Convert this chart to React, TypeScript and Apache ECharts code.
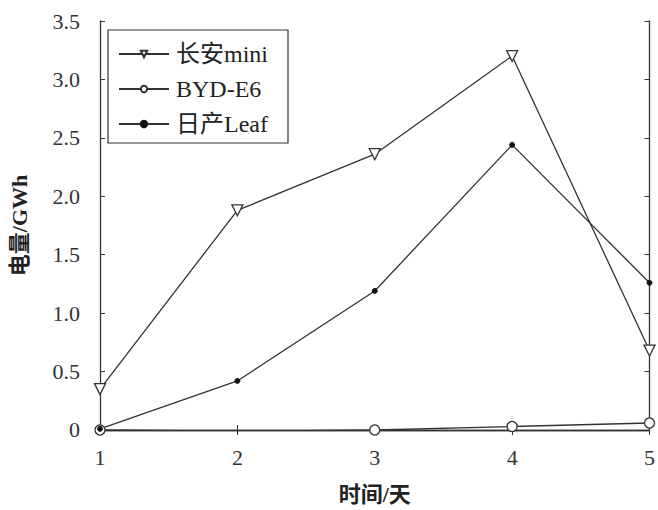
import React, { useEffect, useRef } from "react";
import * as echarts from "echarts";

const days = [1, 2, 3, 4, 5];
const changan = [0.35, 1.88, 2.36, 3.2, 0.68];
const byd = [0.0, -0.01, 0.0, 0.03, 0.06];
const leaf = [0.01, 0.42, 1.19, 2.44, 1.26];
const seriesNames = ["长安mini", "BYD-E6", "日产Leaf"];

const FONT = "'Liberation Serif', 'Noto Sans CJK SC', serif";
const C = "#333";

export default function App() {
  const ref = useRef<HTMLDivElement>(null);
  useEffect(() => {
    if (!ref.current) return;
    const chart = echarts.init(ref.current, undefined, { renderer: "svg" });
    const pair = (ys: number[]) => days.map((d, i) => [d, ys[i]]);
    const lineStyle = { color: C, width: 1.3 };
    chart.setOption({
      animation: false,
      backgroundColor: "#fff",
      grid: { left: 100, right: 6, top: 21, bottom: 78 },
      legend: {
        left: 108,
        top: 30,
        orient: "vertical",
        borderColor: C,
        borderWidth: 1.2,
        padding: [12, 20, 7, 10],
        itemGap: 11,
        itemWidth: 50,
        itemHeight: 8,
        textStyle: { fontFamily: FONT, fontSize: 24, color: "#222", padding: [0, 0, 0, 2] },
        data: seriesNames,
      },
      xAxis: [
        {
          type: "value",
          min: 1,
          max: 5,
          interval: 1,
          name: "时间/天",
          nameLocation: "middle",
          nameGap: 53,
          nameTextStyle: { fontFamily: FONT, fontSize: 22, fontWeight: "bold", color: "#222" },
          axisLine: { lineStyle: { color: C, width: 1.3 } },
          axisTick: { inside: true, length: 5, lineStyle: { color: C } },
          axisLabel: { fontFamily: FONT, fontSize: 22, color: "#333", margin: 16 },
          splitLine: { show: false },
        },
        {
          type: "value",
          position: "top",
          min: 1,
          max: 5,
          interval: 1,
          axisLine: { show: true, lineStyle: { color: C, width: 1.3 } },
          axisTick: { inside: true, length: 5, lineStyle: { color: C } },
          axisLabel: { show: false },
          splitLine: { show: false },
        },
      ],
      yAxis: [
        {
          type: "value",
          min: 0,
          max: 3.5,
          interval: 0.5,
          name: "电量/GWh",
          nameLocation: "middle",
          nameGap: 70,
          nameTextStyle: { fontFamily: FONT, fontSize: 22, fontWeight: "bold", color: "#222" },
          axisLine: { show: true, lineStyle: { color: C, width: 1.3 } },
          axisTick: { show: true, inside: true, length: 5, lineStyle: { color: C } },
          axisLabel: {
            fontFamily: FONT,
            fontSize: 22,
            color: "#333",
            margin: 20,
            formatter: (v: number) => (v === 0 ? "0" : v.toFixed(1)),
          },
          splitLine: { show: false },
        },
        {
          type: "value",
          position: "right",
          min: 0,
          max: 3.5,
          interval: 0.5,
          axisLine: { show: true, lineStyle: { color: C, width: 1.3 } },
          axisTick: { show: true, inside: true, length: 5, lineStyle: { color: C } },
          axisLabel: { show: false },
          splitLine: { show: false },
        },
      ],
      series: [
        {
          name: seriesNames[0],
          type: "line",
          data: pair(changan),
          symbol: "triangle",
          symbolRotate: 180,
          symbolSize: 11,
          lineStyle,
          itemStyle: { color: "#fff", borderColor: C, borderWidth: 1.3 },
        },
        {
          name: seriesNames[1],
          type: "line",
          data: pair(byd),
          symbol: "circle",
          symbolSize: 10,
          lineStyle,
          itemStyle: { color: "#fff", borderColor: C, borderWidth: 1.3 },
        },
        {
          name: seriesNames[2],
          type: "line",
          data: pair(leaf),
          symbol: "circle",
          symbolSize: 5,
          lineStyle,
          itemStyle: { color: "#111", borderColor: "#111", borderWidth: 1 },
        },
      ],
    });
    return () => chart.dispose();
  }, []);
  return (
    <div
      ref={ref}
      style={{ position: "fixed", left: 0, top: 0, width: 658, height: 510 }}
    />
  );
}
